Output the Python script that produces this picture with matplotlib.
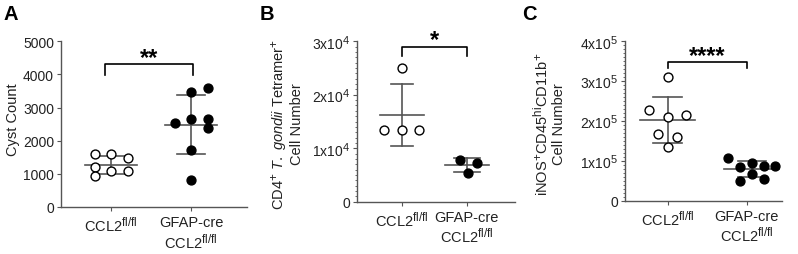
import matplotlib
matplotlib.use("Agg")
import matplotlib.pyplot as plt
import numpy as np
from matplotlib.ticker import MultipleLocator
try:
    import matplotlib._mathtext as _mt
    _mt.SHRINK_FACTOR = 0.8
except Exception:
    pass

plt.rcParams['font.family'] = ['Liberation Sans', 'DejaVu Sans']
plt.rcParams['mathtext.fontset'] = 'custom'
plt.rcParams['mathtext.rm'] = 'Liberation Sans'
plt.rcParams['mathtext.it'] = 'Liberation Sans:italic'
plt.rcParams['mathtext.bf'] = 'Liberation Sans:bold'

# ---------------- data ----------------
groups = ['CCL2$^{\\mathregular{fl/fl}}$', 'GFAP-cre\nCCL2$^{\\mathregular{fl/fl}}$']

a_ctrl = [1594, 1594, 1473, 1200, 1080, 1080, 928]
a_cko = [3468, 3598, 2540, 2661, 2661, 2389, 1733, 826]

b_ctrl = [25000, 13400, 13400, 13400]
b_cko = [7800, 7300, 5400]

c_ctrl = [310000, 228000, 209000, 215000, 167000, 161000, 134000]
c_cko = [106000, 84000, 94000, 86000, 88000, 67000, 49000, 54500]

a_ticks = [0, 1000, 2000, 3000, 4000, 5000]
a_ticklabels = ['0', '1000', '2000', '3000', '4000', '5000']
b_ticks = [0, 10000, 20000, 30000]
b_ticklabels = ['0', '1x10$^{4}$', '2x10$^{4}$', '3x10$^{4}$']
c_ticks = [0, 100000, 200000, 300000, 400000]
c_ticklabels = ['0', '1x10$^{5}$', '2x10$^{5}$', '3x10$^{5}$', '4x10$^{5}$']

sig = ['**', '*', '****']

# ---------------- layout / style ----------------
W, H = 798, 255
fig = plt.figure(figsize=(W / 100, H / 100), dpi=100)

def box(l, r, b, t):
    return [l / W, 1 - b / H, (r - l) / W, (b - t) / H]

line_col = '#555555'
txt_col = '#222222'

def panel(rect, xlim, ylim, ticks, ticklabels, ctrl, cko, offs1, offs2,
          centers, mean_hw, cap_hw, minor=None, sigtxt='', br=None):
    ax = fig.add_axes(rect)
    ax.set_xlim(*xlim)
    ax.set_ylim(*ylim)
    for s in ['top', 'right']:
        ax.spines[s].set_visible(False)
    for s in ['left', 'bottom']:
        ax.spines[s].set_color(line_col)
        ax.spines[s].set_linewidth(1.0)
    ax.set_yticks(ticks)
    ax.set_yticklabels(ticklabels, fontsize=10, color=txt_col)
    ax.set_xticks([0, 1])
    ax.set_xticklabels(groups, fontsize=10.5, color=txt_col, linespacing=1.15)
    ax.tick_params(axis='both', colors=line_col, length=3, width=0.8, pad=2,
                   labelcolor=txt_col)
    ax.tick_params(axis='x', pad=3)
    if minor is not None:
        ax.yaxis.set_minor_locator(MultipleLocator(minor))
        ax.tick_params(axis='y', which='minor', length=1.8, width=0.6, colors=line_col)

    for data, offs, c, filled, chw in [(ctrl, offs1, centers[0], False, cap_hw[0]),
                                       (cko, offs2, centers[1], True, cap_hw[1])]:
        d = np.array(data, dtype=float)
        m = d.mean()
        sd = d.std(ddof=1)
        ax.plot([c - mean_hw, c + mean_hw], [m, m], color=line_col, lw=1.2, zorder=2)
        ax.plot([c, c], [m - sd, m + sd], color=line_col, lw=1.2, zorder=2)
        for yy in (m - sd, m + sd):
            ax.plot([c - chw, c + chw], [yy, yy], color=line_col, lw=1.2, zorder=2)
        xs = c + np.array(offs)
        ax.plot(xs, d, 'o', ms=6.4, mfc='black' if filled else 'white',
                mec='black', mew=1.0, zorder=3, clip_on=False)

    x0, x1, ylo, yhi, ytxt = br
    ax.plot([x0, x0, x1, x1], [ylo, yhi, yhi, ylo], color='black', lw=1.2,
            clip_on=False, zorder=4)
    ax.text((x0 + x1) / 2, ytxt, sigtxt, ha='center', va='center', fontsize=17,
            fontweight='bold', color='black', clip_on=False)
    return ax

# Panel A
panel(box(61, 247, 208, 42.3), (-0.625, 1.7), (0, 5000), a_ticks, a_ticklabels,
      a_ctrl, a_cko,
      [-0.2, 0, 0.21, -0.2, 0, 0.21, -0.2],
      [0, 0.21, -0.205, 0, 0.21, 0.21, 0, 0],
      (0, 1), 0.32, (0.21, 0.17), None, sig[0],
      (-0.075, 1.02, 3970, 4300, 4500))

# Panel B
panel(box(356.7, 515, 202.7, 42.3), (-0.69, 1.74), (0, 30000), b_ticks, b_ticklabels,
      b_ctrl, b_cko,
      [0, -0.27, 0, 0.27],
      [-0.11, 0.16, 0.02],
      (0, 1), 0.34, (0.17, 0.2), 1000, sig[1],
      (0.01, 1.0, 27200, 28880, 30300))

# Panel C
panel(box(625, 781.7, 201.7, 42.3), (-0.54, 1.443), (0, 400000), c_ticks, c_ticklabels,
      c_ctrl, c_cko,
      [0, -0.233, 0, 0.233, -0.12, 0.114, 0],
      [-0.30, -0.156, 0, 0.148, 0.296, 0, -0.156, 0.148],
      (0, 1.065), 0.35, (0.18, 0.18), 10000, sig[2],
      (0.0, 1.0, 333000, 347500, 365000))

# y labels
fig.text(13 / W, 1 - 120 / H, 'Cyst Count', rotation=90, ha='center', va='center',
         fontsize=10.5, color=txt_col)
fig.text(287 / W, 1 - 124 / H,
         'CD4$^{+}$ $\\mathit{T.\\ gondii}$ Tetramer$^{+}$\nCell Number',
         rotation=90, ha='center', va='center', fontsize=10.5, color=txt_col,
         linespacing=1.05, multialignment='center')
fig.text(549 / W, 1 - 124 / H,
         'iNOS$^{+}$CD45$^{\\mathregular{hi}}$CD11b$^{+}$\nCell Number',
         rotation=90, ha='center', va='center', fontsize=10.5, color=txt_col,
         linespacing=1.05, multialignment='center')

# panel letters
for x, lab in [(3, 'A'), (260, 'B'), (522, 'C')]:
    fig.text(x / W, 1 - 20 / H, lab, fontsize=14.5, fontweight='bold',
             ha='left', va='baseline', color='black')

fig.savefig('out.png', dpi=100)
